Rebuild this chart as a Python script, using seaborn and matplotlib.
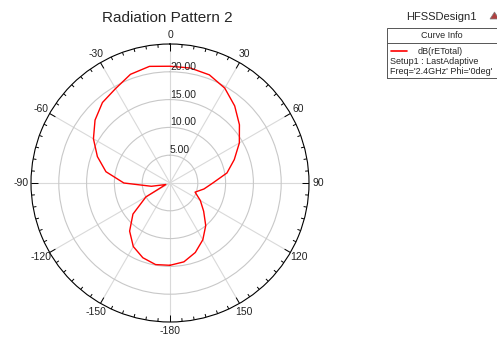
import numpy as np
import pandas as pd
import matplotlib
matplotlib.use("Agg")
import matplotlib.pyplot as plt
import seaborn as sns
from matplotlib.lines import Line2D
from matplotlib.patches import Rectangle, Polygon

# 方向图数据 (Phi=0deg, 2.4GHz), 角度按 HFSS 的 -180..180
theta_deg = [-180, -170, -160, -150, -140, -130, -120, -110, -100, -90,
             -80, -70, -60, -50, -40, -30, -20, -10, 0,
             10, 20, 30, 40, 50, 60, 70, 80, 90,
             100, 110, 120, 130, 140, 150, 160, 170, 180]
gain_db = [14.8, 14.9, 14.3, 13.2, 11.3, 8.7, 5.0, 0.8, 3.4, 8.3,
           11.7, 13.9, 15.9, 17.6, 18.9, 19.6, 20.8, 21.3, 21.0,
           21.0, 20.7, 19.7, 18.1, 16.3, 14.4, 12.3, 10.4, 7.7,
           6.2, 4.8, 6.3, 7.9, 10.0, 11.8, 13.3, 14.4, 14.8]

ring_vals = [5, 10, 15, 20]
ring_labels = ["5.00", "10.00", "15.00", "20.00"]
angle_ticks = [0, 30, 60, 90, 120, 150, 180, -150, -120, -90, -60, -30]
angle_labels = ["0", "30", "60", "90", "120", "150", "-180", "-150", "-120", "-90", "-60", "-30"]
r_max = 25

sns.set_style("white")
plt.rcParams["font.family"] = ["Liberation Sans", "DejaVu Sans"]

df = pd.DataFrame({"theta": np.deg2rad(theta_deg), "gain": gain_db})

fig = plt.figure(figsize=(4.97, 3.37), dpi=100)
ax = fig.add_axes([31 / 497, 15 / 337, 278 / 497, 278 / 337], projection="polar")
ax.set_theta_zero_location("N")
ax.set_theta_direction(-1)
ax.set_ylim(0, r_max)

# 网格
ax.set_rgrids(ring_vals, labels=[""] * len(ring_vals))
ax.set_thetagrids(np.arange(0, 360, 30), labels=[""] * 12)
ax.yaxis.grid(True, color="#c8c8c8", lw=0.8)
ax.xaxis.grid(True, color="#d9d9d9", lw=0.8)
ax.tick_params(axis="both", length=0, pad=0)
ax.spines["polar"].set_color("black")
ax.spines["polar"].set_linewidth(0.8)

# 外圈刻度 (每 5 度)
for a in range(0, 360, 5):
    t = np.deg2rad(a)
    ln = 1.2 if a % 30 == 0 else 0.6
    ax.plot([t, t], [r_max - ln, r_max], color="black", lw=0.7, solid_capstyle="butt")

sns.lineplot(data=df, x="theta", y="gain", ax=ax, sort=False, estimator=None,
             color="red", lw=1.0, legend=False)
ax.set_xlabel("")
ax.set_ylabel("")
ax.set_ylim(0, r_max)

for a, lab in zip(angle_ticks, angle_labels):
    ax.text(np.deg2rad(a), 26.7, lab, ha="center", va="center", fontsize=7.5, color="#222222")
for r, lab in zip(ring_vals, ring_labels):
    ax.text(0, r, lab, ha="left", va="bottom", fontsize=7.5, color="#222222")

fig.text(167 / 497, 1 - 17.5 / 337, "Radiation Pattern 2", ha="center", va="center", fontsize=11)

# 图例框
def fx(px):
    return px / 497

def fy(py):
    return 1 - py / 337

fig.text(fx(441.5), fy(17.5), "HFSSDesign1", ha="center", va="center", fontsize=8)
fig.patches.append(Rectangle((fx(387), fy(78)), fx(505) - fx(387), fy(28) - fy(78),
                             transform=fig.transFigure, fill=False, ec="#555555", lw=0.7))
fig.lines.append(Line2D([fx(387), fx(505)], [fy(42.7), fy(42.7)], transform=fig.transFigure,
                        color="#555555", lw=0.7))
fig.text(fx(442), fy(35.5), "Curve Info", ha="center", va="center", fontsize=6.5)
fig.lines.append(Line2D([fx(390.5), fx(407)], [fy(51), fy(51)], transform=fig.transFigure,
                        color="red", lw=1.2))
fig.text(fx(418), fy(51), "dB(rETotal)", ha="left", va="center", fontsize=6.5)
fig.text(fx(390), fy(62), "Setup1 : LastAdaptive", ha="left", va="center", fontsize=6.5)
fig.text(fx(390), fy(71.5), "Freq='2.4GHz' Phi='0deg'", ha="left", va="center", fontsize=6.5)
fig.patches.append(Polygon([(fx(490), fy(19)), (fx(494.5), fy(12)), (fx(499), fy(19))],
                           closed=True, transform=fig.transFigure, fc="#b04040", ec="#808080", lw=0.5))

fig.savefig("out.png", dpi=100)
